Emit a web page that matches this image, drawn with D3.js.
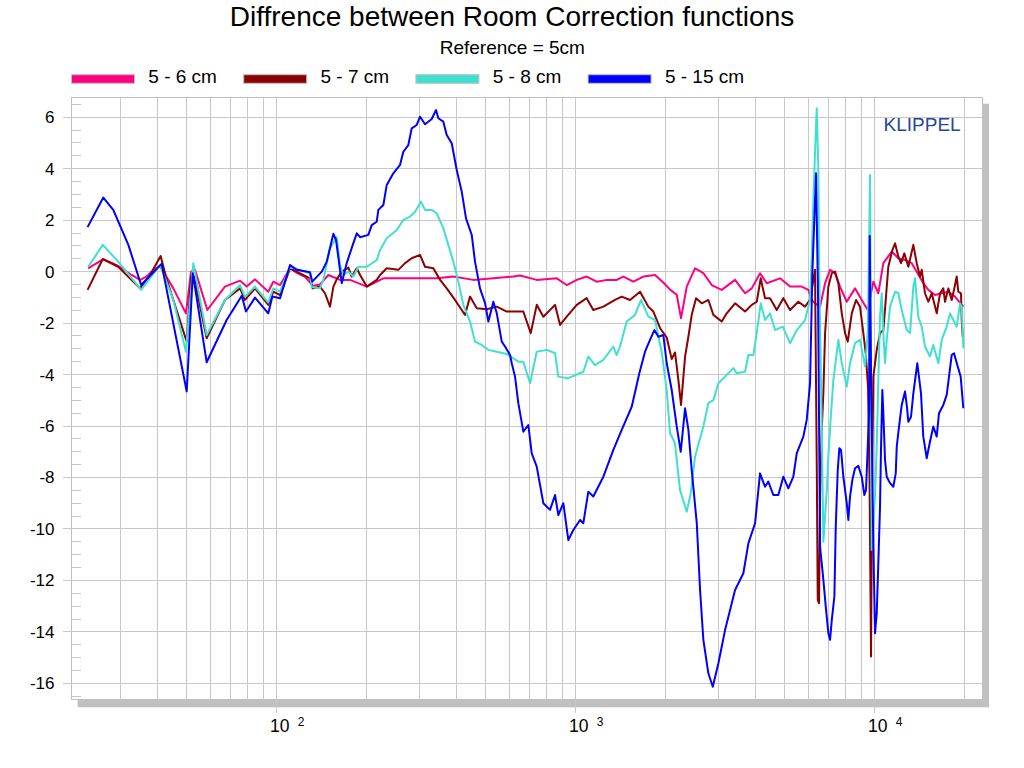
<!DOCTYPE html>
<html lang="en">
<head>
<meta charset="utf-8">
<title>Diffrence between Room Correction functions</title>
<script src="https://cdn.jsdelivr.net/npm/d3@7/dist/d3.min.js"></script>
<style>
  body { margin: 0; background: #fff; }
  text { font-family: "Liberation Sans", Arial, sans-serif; }
</style>
</head>
<body>
<script>
// each series: [frequency Hz, difference dB]
var s6 = [[23.4,0.13],[26.3,0.49],[29.5,0.22],[32.7,-0.13],[34.9,-0.32],[36.7,-0.19],[38.7,0.07],[40.7,0.22],[45.1,-0.65],[49.7,-1.62],[51.7,0],[53.3,0.07],[58.6,-1.49],[67.1,-0.58],[75.4,-0.35],[79.4,-0.58],[84.6,-0.3],[93.7,-0.78],[97.4,-0.39],[102.6,-0.52],[110.8,0.13],[116.7,-0.05],[124.3,-0.2],[132.3,-0.55],[139.5,-0.5],[148.8,-0.13],[162.8,-0.32],[175.9,-0.32],[200,-0.58],[227.3,-0.26],[258.5,-0.26],[301.5,-0.26],[342.9,-0.26],[389.6,-0.19],[454.5,-0.32],[530.3,-0.26],[618.4,-0.19],[651.2,-0.15],[740.6,-0.32],[864.1,-0.26],[933,-0.52],[1008,-0.32],[1088,-0.19],[1176,-0.39],[1270,-0.32],[1371,-0.32],[1443,-0.19],[1558,-0.39],[1683,-0.19],[1842,-0.13],[1963,-0.42],[2068,-0.7],[2177,-0.9],[2250,-1.81],[2351,-0.58],[2506,0.13],[2672,-0.06],[2850,-0.52],[3078,-0.71],[3411,-0.32],[3684,-0.84],[3879,-0.65],[4134,-0.06],[4353,-0.45],[4824,-0.26],[5210,-0.58],[5700,-0.58],[5996,-0.71],[6155,-1.1],[6313,-1.23],[6564,-1.36],[6822,-0.45],[7089,0.07],[7366,-0.06],[7655,-0.58],[8061,-1.17],[8592,-0.65],[9047,-1.1],[9475,-1.49],[9892,-0.39],[10280,-0.84],[10685,0.33],[11400,0.78],[11993,0.52],[12626,0.45],[13296,0.33],[13818,0],[14535,-0.45],[15108,-0.71],[15908,-0.91],[16752,-0.84],[17628,-0.78],[18555,-0.97],[19539,-1.29],[19778,-1.36]]

var s7 = [[23.3,-0.71],[26.2,0.49],[29.5,0.19],[34.9,-0.65],[37.7,-0.13],[40.9,0.61],[42.9,-0.32],[50.0,-2.72],[51.7,-0.19],[52.9,-0.19],[58.3,-2.59],[67.1,-1.1],[75.4,-0.65],[78.3,-1.1],[84.6,-0.65],[93.7,-1.29],[97.4,-0.78],[102.6,-0.91],[110.8,0.13],[129.2,-0.26],[131.9,-0.65],[139.5,-0.58],[145.0,-0.84],[150.7,-1.36],[154.7,-0.58],[158.7,-0.3],[165.0,0],[173.6,0.16],[178.2,-0.19],[185.2,0.13],[190,-0.13],[200,-0.58],[216,-0.32],[221.6,-0.13],[233.3,0.13],[255.1,0.07],[268.6,0.33],[282.8,0.52],[301.5,0.65],[313.3,0.19],[334,0.13],[351.8,-0.32],[370.3,-0.65],[394.7,-1.1],[415.6,-1.49],[426.4,-1.68],[443.1,-0.97],[466.6,-1.42],[504,-1.46],[544.4,-1.36],[587.9,-1.55],[667.9,-1.55],[707.3,-2.39],[740.6,-1.29],[779.2,-1.75],[852.7,-1.29],[886.3,-2.07],[933,-1.75],[1008,-1.29],[1088,-1.03],[1145,-1.49],[1237,-1.36],[1353,-1.1],[1425,-0.97],[1519,-1.1],[1641,-0.78],[1749,-1.36],[1818,-1.55],[1916,-2.2],[2015,-2.56],[2094,-3.4],[2148,-3.14],[2204,-4.21],[2250,-5.18],[2321,-3.3],[2381,-2.53],[2443,-1.68],[2526,-1.03],[2639,-1.23],[2777,-1.1],[2886,-1.68],[3078,-1.94],[3199,-1.62],[3411,-1.23],[3684,-1.55],[3879,-1.29],[4031,-1.17],[4156,-0.26],[4296,-1.03],[4465,-1.03],[4702,-1.49],[4946,-1.03],[5210,-1.49],[5553,-1.17],[5847,-1.36],[6076,-1.1],[6313,0.07],[6398,-7.45],[6448,-12.76],[6513,-12.89],[6564,-8.74],[6649,-6.15],[6733,-4.7],[6822,-2.39],[6997,-0.58],[7183,-0.06],[7366,0],[7557,-0.45],[7757,-1.62],[7957,-2.39],[8123,-2.72],[8378,-1.62],[8659,-1.1],[8929,-1.36],[9159,-2.39],[9330,-3.17],[9497,-4.5],[9606,-8],[9719,-14.96],[9800,-8],[9893,-4.08],[10155,-3.04],[10416,-2.39],[10685,-2.27],[10884,-1.1],[11103,0.19],[11453,0.84],[11694,1.1],[11993,0.58],[12246,0.33],[12560,0.71],[12953,0.19],[13461,1.04],[13818,0.33],[14171,-0.19],[14359,0.07],[14727,-0.84],[15108,-1.17],[15506,-0.84],[16117,-1.62],[16537,-0.84],[16956,-0.65],[17185,-1.17],[17628,-0.65],[18088,-1.1],[18455,-0.65],[18801,-0.19],[19033,-0.78],[19433,-0.84],[19539,-1.88],[19688,-2.53]]

var s8 = [[23.4,0.19],[26.2,1.04],[29.5,0.39],[35.2,-0.71],[40.7,0.26],[45.1,-1.1],[49.7,-3.11],[52.6,0.33],[58.3,-2.46],[67.1,-1.1],[75.4,-0.52],[78.3,-0.97],[84.6,-0.58],[93.7,-1.2],[97.4,-0.65],[102.6,-0.78],[110.8,0.19],[129.2,-0.06],[130.9,-0.6],[139.5,-0.65],[143.2,-0.32],[150.7,0.91],[158.7,1.34],[162.8,0.26],[167,-0.13],[173.6,0],[180.4,-0.19],[187.5,0.19],[200,0.19],[216,0.45],[221.6,0.84],[233.3,1.3],[252,1.62],[265.1,2.01],[279.1,2.14],[290.1,2.33],[303.6,2.72],[313.3,2.4],[329.9,2.4],[342.9,2.27],[360.7,1.69],[374.8,1.04],[389.6,0.39],[405,-0.39],[420.9,-1.29],[443.1,-1.94],[460.4,-2.72],[484.9,-2.85],[510.3,-3.04],[544.4,-3.11],[587.9,-3.2],[618.4,-3.37],[642.7,-3.5],[667.9,-3.5],[703.5,-4.34],[740.6,-3.11],[799.8,-3.04],[852.7,-3.17],[874.6,-4.08],[944.7,-4.14],[1060,-3.89],[1102,-3.3],[1160,-3.63],[1237,-3.43],[1336,-2.91],[1371,-3.24],[1407,-2.9],[1481,-1.94],[1579,-1.68],[1653,-1.1],[1749,-1.75],[1842,-1.88],[1941,-3.17],[2015,-4.6],[2068,-6.28],[2148,-6.67],[2232,-8.48],[2351,-9.33],[2424,-8.61],[2506,-7.19],[2672,-6.02],[2777,-5.11],[2886,-4.99],[3000,-4.34],[3158,-4.08],[3366,-3.75],[3456,-3.95],[3684,-3.89],[3779,-3.24],[3926,-3.24],[4031,-2.39],[4156,-1.23],[4296,-1.88],[4465,-1.62],[4642,-2.27],[4923,-2.14],[5210,-2.78],[5343,-2.53],[5484,-2.27],[5847,-1.88],[5996,-1.36],[6076,-1.1],[6155,0.58],[6232,2.79],[6350,5.38],[6398,6.35],[6478,3.95],[6513,0.45],[6649,-6],[6733,-10.5],[6912,-8.48],[6997,-7.19],[7143,-5.5],[7271,-4.21],[7366,-3.69],[7557,-2.65],[7757,-3.56],[8061,-4.47],[8267,-3.56],[8592,-2.78],[8929,-2.65],[9281,-3.69],[9475,-2.39],[9570,0.84],[9645,3.76],[9772,-10.82],[10023,-8.74],[10155,-6.8],[10280,-4.21],[10416,-1.75],[10555,-0.84],[10685,-2.39],[10825,-3.56],[10967,-2.65],[11250,-1.36],[11694,-0.78],[11993,-0.84],[12310,-1.49],[12793,-2.27],[13124,-2.39],[13461,-0.58],[13637,-0.26],[13986,-1.75],[14359,-2.14],[14727,-2.91],[15303,-3.3],[15700,-2.85],[16322,-3.56],[16752,-2.65],[17407,-2.14],[17855,-1.62],[18317,-1.88],[18801,-2.14],[19285,-1.23],[19539,-1.36],[19778,-2.98]]

var s15 = [[23.3,1.73],[26.3,2.88],[28.4,2.4],[31.9,1.04],[35.2,-0.52],[41.2,0.3],[50.0,-4.66],[52.4,-0.06],[58.3,-3.52],[68.0,-1.88],[76.4,-0.94],[78.9,-1.55],[84.6,-1.01],[93.7,-1.62],[96.7,-0.97],[102.6,-1.03],[110.8,0.26],[116.7,0.07],[129.2,-0.02],[131.5,-0.39],[141.5,0],[147.0,0.39],[154.7,1.47],[157.9,1.23],[165.0,-0.45],[171.4,0.33],[179.6,1.04],[185.2,1.49],[190.0,1.34],[202.5,1.43],[207.8,1.81],[216.0,1.94],[218.7,2.4],[227.3,2.59],[233.3,3.37],[245.5,3.82],[258.5,4.15],[265.1,4.66],[275.5,4.92],[282.8,5.57],[293.9,5.7],[301.5,6.02],[313.3,5.73],[329.9,5.93],[341.1,6.28],[347.1,5.96],[360.7,5.83],[370.3,5.31],[384.8,4.99],[400,3.95],[415.6,3.11],[429.6,2.07],[448.9,1.43],[460.4,0.39],[478.5,-0.65],[497.5,-1.23],[510.3,-1.94],[530.3,-1.17],[544.4,-1.62],[565.7,-2.72],[580.2,-2.91],[603.1,-3.24],[610.9,-3.56],[626.6,-4.08],[642.7,-5.11],[667.9,-6.22],[694.2,-5.96],[712.6,-7.06],[740.6,-7.58],[779.2,-9.0],[820.4,-9.26],[852.7,-8.68],[874.6,-9.46],[908.9,-9.0],[944.7,-10.43],[981.7,-10.04],[1034,-9.65],[1060,-9.78],[1102,-8.55],[1145,-8.74],[1237,-7.97],[1336,-6.93],[1425,-6.15],[1539,-5.25],[1632,-3.95],[1705,-3.11],[1772,-2.65],[1832,-2.27],[1890,-2.53],[1963,-2.46],[2015,-3.56],[2094,-4.6],[2177,-6.02],[2245,-7.0],[2321,-5.31],[2381,-6.15],[2443,-7.71],[2540,-9.78],[2605,-12.37],[2672,-14.31],[2777,-15.61],[2873,-16.13],[3000,-15.22],[3158,-13.93],[3411,-12.37],[3636,-11.72],[3779,-10.56],[3979,-9.78],[4134,-7.84],[4296,-8.36],[4406,-8.16],[4580,-8.68],[4760,-8.68],[4946,-7.97],[5140,-8.42],[5343,-7.97],[5484,-7.06],[5770,-6.41],[5923,-5.76],[6076,-4.34],[6185,-0.06],[6364,3.82],[6463,-1],[6564,-10.69],[6733,-11.98],[6858,-13.02],[6997,-14.05],[7089,-14.31],[7183,-13.54],[7328,-12.63],[7407,-9.91],[7522,-7.71],[7614,-6.86],[7715,-6.93],[7852,-7.97],[8061,-9.0],[8160,-9.65],[8267,-8.74],[8415,-8.1],[8592,-7.64],[8814,-7.55],[9047,-7.97],[9230,-8.68],[9352,-8.48],[9475,-6.8],[9570,-5.5],[9622,1.39],[9719,-4],[9892,-10.69],[10023,-14.05],[10155,-13.28],[10280,-11.33],[10416,-9.13],[10498,-6.8],[10603,-4.6],[10685,-5.5],[10825,-7.32],[10967,-7.97],[11250,-8.22],[11540,-8.36],[11755,-7.84],[11847,-6.8],[12058,-6.02],[12310,-5.18],[12626,-4.66],[12793,-5.18],[12953,-5.83],[13224,-5.64],[13461,-4.73],[13881,-3.56],[14279,-4.73],[14535,-6.41],[14921,-7.25],[15303,-6.61],[15700,-6.02],[16117,-6.41],[16405,-5.5],[16956,-5.18],[17407,-4.79],[18088,-3.24],[18412,-3.17],[18945,-3.69],[19386,-4.08],[19778,-5.31]]

var seriesNames = ['5 - 6 cm', '5 - 7 cm', '5 - 8 cm', '5 - 15 cm']
var seriesColors = ['#ff0080', '#8b0000', '#40e0d0', '#0000ff']
var seriesData = [s6, s7, s8, s15]

var gridHz = [30, 40, 50, 60, 70, 80, 90, 100, 200, 300, 400, 500, 600, 700, 800, 900,
              1000, 2000, 3000, 4000, 5000, 6000, 7000, 8000, 9000, 10000, 20000]
var decadeHz = [100, 1000, 10000]
var decadeExp = ['2', '3', '4']
var yTicks = [-16, -14, -12, -10, -8, -6, -4, -2, 0, 2, 4, 6]

// plot frame in page pixels
var pL = 71.7, pR = 982.5, pT = 97.7, pB = 699.3

var svg = d3.select('body').append('svg').attr('width', 1024).attr('height', 768)

var x = d3.scaleLog().domain([20.62, 22930]).range([pL, pR])
var y = d3.scaleLinear().domain([-16.62, 6.76]).range([pB, pT])

// drop shadow of the plot frame
svg.append('rect').attr('x', pR).attr('y', pT + 6).attr('width', 6.5).attr('height', pB - pT + 1.5)
  .attr('fill', '#c0c0c0')
svg.append('rect').attr('x', pL + 6).attr('y', pB).attr('width', pR - pL + 0.5).attr('height', 8)
  .attr('fill', '#c0c0c0')
svg.append('rect').attr('x', pL).attr('y', pT).attr('width', pR - pL).attr('height', pB - pT)
  .attr('fill', '#fff')

var grid = svg.append('g').attr('stroke', '#c8c8c8').attr('stroke-width', 1).attr('shape-rendering', 'crispEdges')

grid.selectAll('line.v').data(gridHz).enter().append('line')
  .attr('x1', function(d) { return x(d) }).attr('x2', function(d) { return x(d) })
  .attr('y1', pT).attr('y2', function(d) { return decadeHz.indexOf(d) >= 0 ? 713 : pB })

grid.selectAll('line.h').data(yTicks).enter().append('line')
  .attr('x1', 62.7).attr('x2', pR)
  .attr('y1', function(d) { return y(d) }).attr('y2', function(d) { return y(d) })

// minor ticks every 0.5 dB
var minor = d3.range(-16.5, 6.6, 0.5).filter(function(v) { return Math.abs(v % 2) > 0.01 })
grid.selectAll('line.m').data(minor).enter().append('line')
  .attr('x1', pL).attr('x2', pL + 9.5)
  .attr('y1', function(d) { return y(d) }).attr('y2', function(d) { return y(d) })

svg.append('rect').attr('x', pL).attr('y', pT).attr('width', pR - pL).attr('height', pB - pT)
  .attr('fill', 'none').attr('stroke', '#c0c0c0').attr('shape-rendering', 'crispEdges')

// tick labels
svg.selectAll('text.yl').data(yTicks).enter().append('text')
  .attr('x', 54.5).attr('y', function(d) { return y(d) })
  .attr('dy', '0.35em').attr('text-anchor', 'end')
  .attr('font-size', '17px').attr('fill', '#000')
  .text(function(d) { return d })

decadeHz.forEach(function(d, i) {
  var t = svg.append('text').attr('x', x(d) - 6.7).attr('y', 731.7).attr('fill', '#000')
  t.append('tspan').attr('font-size', '17.5px').text('10')
  t.append('tspan').attr('x', x(d) + 21).attr('y', 726).attr('font-size', '12px').text(decadeExp[i])
})

// curves
svg.append('clipPath').attr('id', 'plot').append('rect')
  .attr('x', pL).attr('y', pT).attr('width', pR - pL).attr('height', pB - pT)

var line = d3.line()
  .x(function(d) { return x(d[0]) })
  .y(function(d) { return y(d[1]) })

svg.append('g').attr('clip-path', 'url(#plot)')
  .selectAll('path').data(seriesData).enter().append('path')
  .attr('d', line)
  .attr('fill', 'none')
  .attr('stroke', function(d, i) { return seriesColors[i] })
  .attr('stroke-width', 2)
  .attr('stroke-linejoin', 'round')

svg.append('text').attr('x', 960.7).attr('y', 131).attr('text-anchor', 'end')
  .attr('font-size', '19px').attr('fill', '#27479a').text('KLIPPEL')

// title and legend
svg.append('text').attr('x', 512).attr('y', 25.7).attr('text-anchor', 'middle')
  .attr('font-size', '28px').attr('fill', '#000').text('Diffrence between Room Correction functions')
svg.append('text').attr('x', 512.3).attr('y', 54.3).attr('text-anchor', 'middle')
  .attr('font-size', '19px').attr('fill', '#000').text('Reference = 5cm')

var legend = svg.selectAll('g.legend').data(seriesNames).enter().append('g')
  .attr('transform', function(d, i) { return 'translate(' + (71 + i * 172.2) + ',0)' })
legend.append('rect').attr('x', 0.5).attr('y', 74.7).attr('width', 63).attr('height', 8.6)
  .attr('fill', function(d, i) { return seriesColors[i] }).attr('stroke', '#c0c0c0')
legend.append('text').attr('x', 77.3).attr('y', 83.3).attr('font-size', '19px').attr('fill', '#000')
  .text(function(d) { return d })
</script>
</body>
</html>
